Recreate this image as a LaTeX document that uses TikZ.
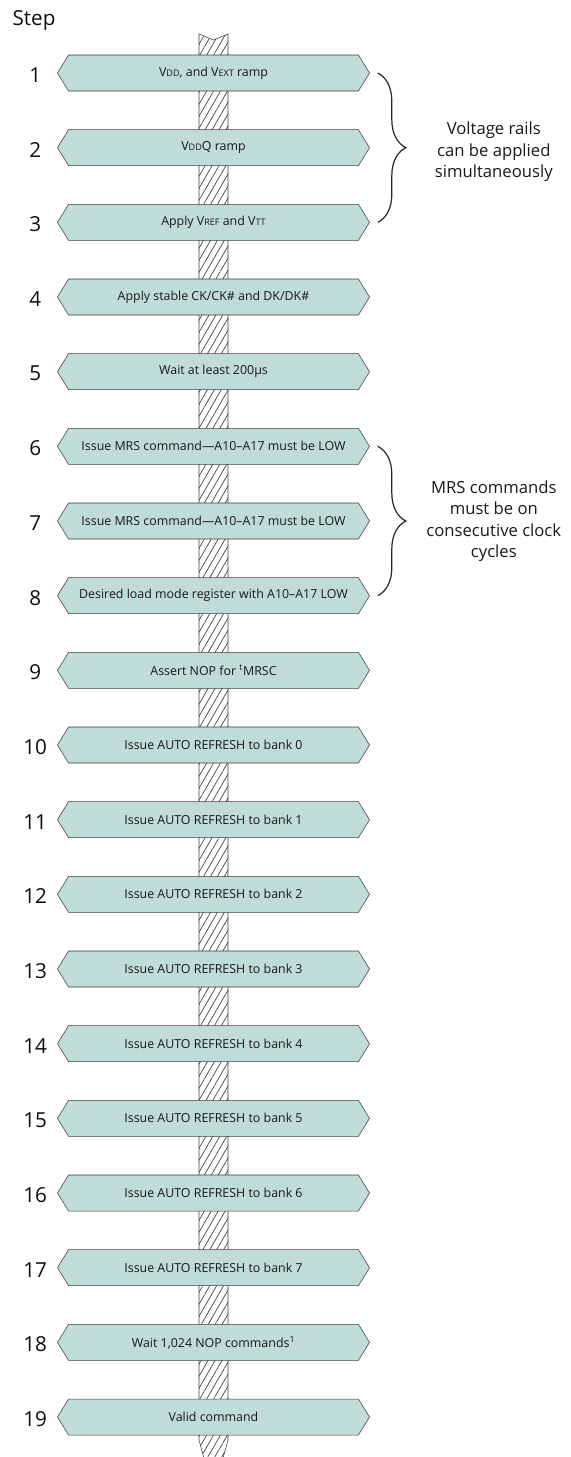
\documentclass[tikz,border=0pt]{standalone}
\usepackage{fontspec}
\setmainfont{Open Sans}
\usetikzlibrary{positioning,shapes.symbols,patterns.meta,decorations.pathreplacing,backgrounds}
\definecolor{boxteal}{RGB}{191,220,215}
\definecolor{edgegray}{RGB}{60,60,60}
\newcommand{\lowcap}[1]{{\fontsize{6.8}{7}\selectfont #1}}
\tikzset{%
  stepbox/.style={
    signal,
    signal to=west and east,
    signal pointer angle=117,
    draw=edgegray,
    fill=boxteal,
    text=black!90,
    minimum width=234pt,
    minimum height=27pt,
    inner sep=0pt,
    font=\fontsize{9.3}{11}\selectfont
  },
  stepnum/.style={
    text=black!95,
    font=\fontsize{15.5}{18}\selectfont
  },
}

\begin{document}
\begin{tikzpicture}[x=0.75pt,y=-0.75pt,node distance=28.6pt,>=latex]
      \useasboundingbox (0,0) rectangle (571,1457);
      \tikzstyle{note}=[align=center,text=black!90,font=\fontsize{12.5}{16}\selectfont]
      \tikzstyle{railbrace}=[decorate,decoration={brace,amplitude=21pt},line width=0.9pt,draw=black!85]
      \tikzstyle{post}=[draw=edgegray,pattern={Lines[angle=60,distance=4.5pt,line width=0.5pt]},pattern color=edgegray]

      \node[stepnum,anchor=base] (step) at (34,25) {Step};

      \node[stepbox] (s1) at (213.5,73) {V\lowcap{DD}, and V\lowcap{EXT} ramp};
      \node[stepbox,below=of s1] (s2) {V\lowcap{DD}Q ramp};
      \node[stepbox,below=of s2] (s3) {Apply V\lowcap{REF} and V\lowcap{TT}};
      \node[stepbox,below=of s3] (s4) {Apply stable CK/CK\# and DK/DK\#};
      \node[stepbox,below=of s4] (s5) {Wait at least 200µs};
      \node[stepbox,below=of s5] (s6) {Issue MRS command—A10–A17 must be LOW};
      \node[stepbox,below=of s6] (s7) {Issue MRS command—A10–A17 must be LOW};
      \node[stepbox,below=of s7] (s8) {Desired load mode register with A10–A17 LOW};
      \node[stepbox,below=of s8] (s9) {Assert NOP for \textsuperscript{t}MRSC};
      \node[stepbox,below=of s9] (s10) {Issue AUTO REFRESH to bank 0};
      \node[stepbox,below=of s10] (s11) {Issue AUTO REFRESH to bank 1};
      \node[stepbox,below=of s11] (s12) {Issue AUTO REFRESH to bank 2};
      \node[stepbox,below=of s12] (s13) {Issue AUTO REFRESH to bank 3};
      \node[stepbox,below=of s13] (s14) {Issue AUTO REFRESH to bank 4};
      \node[stepbox,below=of s14] (s15) {Issue AUTO REFRESH to bank 5};
      \node[stepbox,below=of s15] (s16) {Issue AUTO REFRESH to bank 6};
      \node[stepbox,below=of s16] (s17) {Issue AUTO REFRESH to bank 7};
      \node[stepbox,below=of s17] (s18) {Wait 1,024 NOP commands\textsuperscript{1}};
      \node[stepbox,below=of s18] (s19) {Valid command};

      % step numbers
      \node[stepnum] (n1) at ([xshift=-16.5pt,yshift=-1.5pt]s1.west) {1};
      \node[stepnum] (n2) at ([xshift=-16.5pt,yshift=-1.5pt]s2.west) {2};
      \node[stepnum] (n3) at ([xshift=-16.5pt,yshift=-1.5pt]s3.west) {3};
      \node[stepnum] (n4) at ([xshift=-16.5pt,yshift=-1.5pt]s4.west) {4};
      \node[stepnum] (n5) at ([xshift=-16.5pt,yshift=-1.5pt]s5.west) {5};
      \node[stepnum] (n6) at ([xshift=-16.5pt,yshift=-1.5pt]s6.west) {6};
      \node[stepnum] (n7) at ([xshift=-16.5pt,yshift=-1.5pt]s7.west) {7};
      \node[stepnum] (n8) at ([xshift=-16.5pt,yshift=-1.5pt]s8.west) {8};
      \node[stepnum] (n9) at ([xshift=-16.5pt,yshift=-1.5pt]s9.west) {9};
      \node[stepnum] (n10) at ([xshift=-16.5pt,yshift=-1.5pt]s10.west) {10};
      \node[stepnum] (n11) at ([xshift=-16.5pt,yshift=-1.5pt]s11.west) {11};
      \node[stepnum] (n12) at ([xshift=-16.5pt,yshift=-1.5pt]s12.west) {12};
      \node[stepnum] (n13) at ([xshift=-16.5pt,yshift=-1.5pt]s13.west) {13};
      \node[stepnum] (n14) at ([xshift=-16.5pt,yshift=-1.5pt]s14.west) {14};
      \node[stepnum] (n15) at ([xshift=-16.5pt,yshift=-1.5pt]s15.west) {15};
      \node[stepnum] (n16) at ([xshift=-16.5pt,yshift=-1.5pt]s16.west) {16};
      \node[stepnum] (n17) at ([xshift=-16.5pt,yshift=-1.5pt]s17.west) {17};
      \node[stepnum] (n18) at ([xshift=-16.5pt,yshift=-1.5pt]s18.west) {18};
      \node[stepnum] (n19) at ([xshift=-16.5pt,yshift=-1.5pt]s19.west) {19};

      % braces and notes
      \draw[railbrace] ([xshift=6pt]s1.east) -- ([xshift=6pt]s3.east);
      \node[note] (rails) at ([xshift=93pt,yshift=-3pt]s2.east) {Voltage rails\\can be applied\\simultaneously};
      \draw[railbrace] ([xshift=6pt]s6.east) -- ([xshift=6pt]s8.east);
      \node[note] (mrs) at ([xshift=93pt]s7.east) {MRS commands\\must be on\\consecutive clock\\cycles};

      % hatched post behind the boxes
      \begin{scope}[on background layer]
        \draw[post] (199,34) -- (213.5,40) -- (228,34) -- (228,1440) -- (213.5,1493) -- (199,1440) -- cycle;
      \end{scope}
  \end{tikzpicture}
\end{document}
